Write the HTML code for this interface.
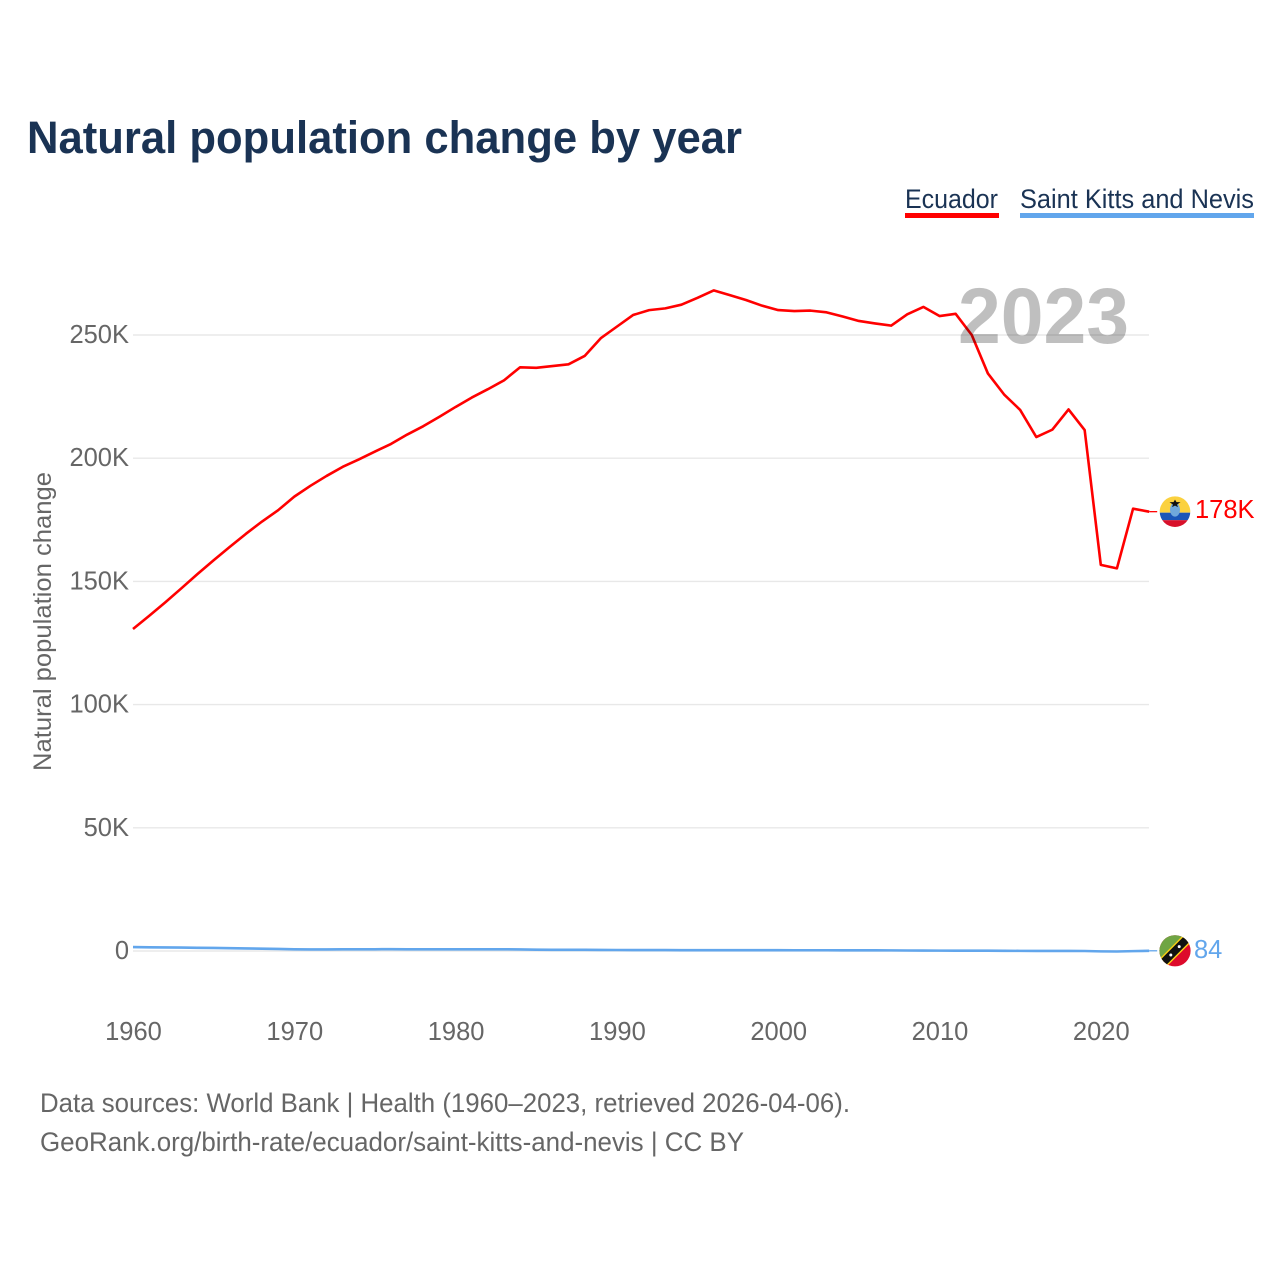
<!DOCTYPE html>
<html lang="en">
<head>
<meta charset="utf-8">
<title>Natural population change by year</title>
<style>
  html, body { margin: 0; padding: 0; background: #fff; }
  svg { display: block; font-family: "Liberation Sans", sans-serif; }
</style>
</head>
<body>
<svg id="chart" xmlns="http://www.w3.org/2000/svg" width="1280" height="1280" viewBox="0 0 1280 1280">
  <rect x="0" y="0" width="1280" height="1280" fill="#ffffff"/>
  <text x="27" y="153" font-size="45" font-weight="700" fill="#1a3354" textLength="715" lengthAdjust="spacingAndGlyphs">Natural population change by year</text>

  <g>
    <g>
      <text x="905" y="208" font-size="27" fill="#1a3354" textLength="93" lengthAdjust="spacingAndGlyphs">Ecuador</text>
      <rect x="905" y="213" width="94" height="5" fill="#ff0000"/>
    </g>
    <g>
      <text x="1020" y="208" font-size="27" fill="#1a3354" textLength="234" lengthAdjust="spacingAndGlyphs">Saint Kitts and Nevis</text>
      <rect x="1020" y="213" width="234" height="5" fill="#62a6ec"/>
    </g>
  </g>

  <text transform="translate(51 771) rotate(-90)" x="0" y="0" font-size="25" fill="#666666" textLength="299" lengthAdjust="spacingAndGlyphs">Natural population change</text>

  <g id="grid"></g>
  <g id="yticks"></g>
  <g id="xticks"></g>
  <g id="series"></g>

  <text id="year-label" x="958" y="343" font-size="79" font-weight="700" fill="#000000" fill-opacity="0.25" textLength="171" lengthAdjust="spacingAndGlyphs">2023</text>

  <defs>
    <clipPath id="clip-ec"><circle cx="0" cy="0" r="15.3"/></clipPath>
    <clipPath id="clip-kn"><circle cx="0" cy="0" r="15.6"/></clipPath>
  </defs>

  <g id="flag-ecuador">
    <g clip-path="url(#clip-ec)">
      <rect x="-16" y="-16" width="32" height="17" fill="#fbd13e"/>
      <rect x="-16" y="1" width="32" height="7.5" fill="#1a56b8"/>
      <rect x="-16" y="8.5" width="32" height="8" fill="#d8102a"/>
      <ellipse cx="0" cy="-2" rx="5" ry="7" fill="#6fa8dc"/>
      <path d="M-5.5 -9.5 L-1.5 -9.5 L0 -12 L1.5 -9.5 L5.5 -9.5 L2 -7 L3 -4.5 L0 -6 L-3 -4.5 L-2 -7 Z" fill="#111111"/>
    </g>
  </g>
  <g id="flag-kn">
    <g clip-path="url(#clip-kn)">
      <rect x="-17" y="-17" width="34" height="34" fill="#dd0a2b"/>
      <path d="M-17 17 L-17 -17 L17 -17 Z" fill="#6fa544"/>
      <path d="M-17 9.5 L9.5 -17 L17 -17 L17 -9.5 L-9.5 17 L-17 17 Z" fill="#fcd116"/>
      <path d="M-17 11.5 L11.5 -17 L17 -17 L17 -11.5 L-11.5 17 L-17 17 Z" fill="#111111"/>
      <circle cx="-4.2" cy="4.2" r="1.5" fill="#ffffff"/>
      <circle cx="4.2" cy="-4.2" r="1.5" fill="#ffffff"/>
    </g>
  </g>

  <text id="end-label-ecuador" x="1195" y="518" font-size="25.5" fill="#ff0000">178K</text>
  <text id="end-label-kn" x="1194" y="958" font-size="25.5" fill="#62a6ec">84</text>

  <g>
    <text x="40" y="1112" font-size="26.5" fill="#666666" textLength="810" lengthAdjust="spacingAndGlyphs">Data sources: World Bank | Health (1960–2023, retrieved 2026-04-06).</text>
    <text x="40" y="1151" font-size="26.5" fill="#666666" textLength="704" lengthAdjust="spacingAndGlyphs">GeoRank.org/birth-rate/ecuador/saint-kitts-and-nevis | CC BY</text>
  </g>
</svg>

<script>
const startYear = 1960;
const endYear = 2023;
const yTickValues = [0, 50000, 100000, 150000, 200000, 250000];
const yTickLabels = ["0", "50K", "100K", "150K", "200K", "250K"];
const xTickValues = [1960, 1970, 1980, 1990, 2000, 2010, 2020];
const xTickLabels = ["1960", "1970", "1980", "1990", "2000", "2010", "2020"];

const ecuadorValues = [
  130700, 136000, 141500, 147200, 153000, 158600, 164000, 169300, 174300, 178900,
  184400, 188800, 192800, 196500, 199500, 202700, 205800, 209600, 213000, 216800,
  220800, 224600, 228000, 231600, 236900, 236700, 237400, 238100, 241500, 248700,
  253400, 258100, 260100, 260800, 262300, 265100, 268100, 266200, 264200, 261900,
  260100, 259700, 259900, 259200, 257500, 255700, 254700, 253800, 258400, 261400,
  257700, 258600, 250000, 234400, 225900, 219600, 208600, 211600, 219800, 211400,
  156700, 155300, 179500, 178300
];
const saintKittsValues = [
  1600, 1500, 1450, 1400, 1300, 1250, 1150, 1050, 950, 850,
  700, 650, 650, 700, 700, 700, 750, 700, 700, 700,
  700, 700, 700, 700, 650, 550, 500, 480, 470, 450,
  400, 380, 370, 360, 350, 350, 350, 350, 340, 330,
  320, 310, 300, 300, 290, 290, 280, 250, 200, 170,
  150, 140, 130, 110, 80, 50, 30, 20, 10, 0,
  -150, -200, -50, 84
];

function xScale(year) {
  return 133 + (year - startYear) * 16.13;
}
function yScale(value) {
  return 951 - value * 0.002464;
}

const NS = "http://www.w3.org/2000/svg";
const gridGroup = document.getElementById("grid");
const yTickGroup = document.getElementById("yticks");
const xTickGroup = document.getElementById("xticks");
const seriesGroup = document.getElementById("series");

yTickValues.forEach(function (value, i) {
  const line = document.createElementNS(NS, "line");
  
  
  line.setAttribute("x1", 133);
  line.setAttribute("x2", 1149);
  line.setAttribute("y1", yScale(value));
  line.setAttribute("y2", yScale(value));
  line.setAttribute("stroke", "#e8e8e8");
  line.setAttribute("stroke-width", 1.4);
  gridGroup.appendChild(line);

  const label = document.createElementNS(NS, "text");
  
  
  label.setAttribute("x", 129);
  label.setAttribute("y", yScale(value) + 8);
  label.setAttribute("text-anchor", "end");
  label.setAttribute("font-size", 25.5);
  label.setAttribute("fill", "#666666");
  label.textContent = yTickLabels[i];
  yTickGroup.appendChild(label);
});

xTickValues.forEach(function (year, i) {
  const label = document.createElementNS(NS, "text");
  
  
  label.setAttribute("x", xScale(year) + 0.5);
  label.setAttribute("y", 1040);
  label.setAttribute("text-anchor", "middle");
  label.setAttribute("font-size", 25.5);
  label.setAttribute("fill", "#666666");
  label.textContent = xTickLabels[i];
  xTickGroup.appendChild(label);
});

function pointsFor(values) {
  return values.map(function (value, i) {
    return xScale(startYear + i).toFixed(2) + "," + yScale(value).toFixed(2);
  }).join(" ");
}

const blueLine = document.createElementNS(NS, "polyline");


blueLine.setAttribute("points", pointsFor(saintKittsValues));
blueLine.setAttribute("fill", "none");
blueLine.setAttribute("stroke", "#62a6ec");
blueLine.setAttribute("stroke-width", 2.6);
blueLine.setAttribute("stroke-linejoin", "round");
seriesGroup.appendChild(blueLine);

const redLine = document.createElementNS(NS, "polyline");


redLine.setAttribute("points", pointsFor(ecuadorValues));
redLine.setAttribute("fill", "none");
redLine.setAttribute("stroke", "#ff0000");
redLine.setAttribute("stroke-width", 2.6);
redLine.setAttribute("stroke-linejoin", "round");
seriesGroup.appendChild(redLine);

const lastX = xScale(endYear);
const lastRedY = yScale(ecuadorValues[ecuadorValues.length - 1]);
const lastBlueY = yScale(saintKittsValues[saintKittsValues.length - 1]);

const redConnector = document.createElementNS(NS, "line");


redConnector.setAttribute("x1", lastX);
redConnector.setAttribute("x2", lastX + 8);
redConnector.setAttribute("y1", lastRedY);
redConnector.setAttribute("y2", lastRedY);
redConnector.setAttribute("stroke", "#ff0000");
redConnector.setAttribute("stroke-width", 1.3);
seriesGroup.appendChild(redConnector);

const blueConnector = document.createElementNS(NS, "line");


blueConnector.setAttribute("x1", lastX);
blueConnector.setAttribute("x2", lastX + 8);
blueConnector.setAttribute("y1", lastBlueY);
blueConnector.setAttribute("y2", lastBlueY);
blueConnector.setAttribute("stroke", "#62a6ec");
blueConnector.setAttribute("stroke-width", 1.3);
seriesGroup.appendChild(blueConnector);

document.getElementById("flag-ecuador").setAttribute("transform", "translate(1175 " + lastRedY.toFixed(2) + ")");
document.getElementById("flag-kn").setAttribute("transform", "translate(1175 " + lastBlueY.toFixed(2) + ")");
document.getElementById("end-label-ecuador").setAttribute("y", (lastRedY + 6.5).toFixed(2));
document.getElementById("end-label-kn").setAttribute("y", (lastBlueY + 7).toFixed(2));
</script>
</body>
</html>
